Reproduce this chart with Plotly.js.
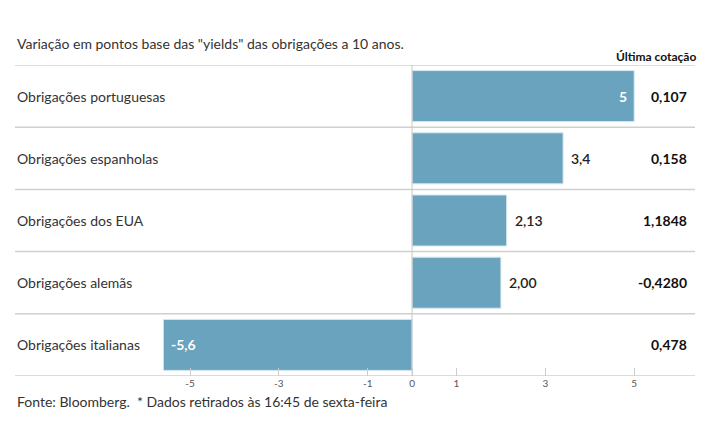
<!DOCTYPE html>
<html><head><meta charset="utf-8">
<script src="https://cdn.plot.ly/plotly-3.0.1.min.js"></script>
<style>body{margin:0;background:#fff}#c{width:715px;height:445px}</style>
</head><body><div id="c"></div>
<script>
const categories = ["Obrigações portuguesas","Obrigações espanholas","Obrigações dos EUA","Obrigações alemãs","Obrigações italianas"];
const changes = [5, 3.4, 2.13, 2.00, -5.6];
const changeLabels = ["5","3,4","2,13","2,00","-5,6"];
const lastQuotes = ["0,107","0,158","1,1848","-0,4280","0,478"];
const tickValues = [-5,-3,-1,0,1,3,5];
const tickLabels = ["-5","-3","-1","0","1","3","5"];

const FONT = "Lato, sans-serif";
const idx = categories.map((_, i) => i);
const n = categories.length;

const trace = {
  type: "bar", orientation: "h",
  x: changes, y: idx,
  width: 0.82,
  marker: {color: "#6aa3bd", line: {color: "#d6e7ef", width: 1}},
  hoverinfo: "skip"
};

const shapes = [];
for (let k = 0; k <= n; k++) {
  shapes.push({type: "line", xref: "paper", yref: "y", x0: 0, x1: 1, y0: k - 0.5, y1: k - 0.5,
    line: {color: "#d0d0d0", width: 1.5}, layer: "below"});
}
shapes.push({type: "line", xref: "x", yref: "y", x0: 0, x1: 0, y0: -0.5, y1: n - 0.5,
  line: {color: "#c8c8c8", width: 1}, layer: "above"});

const annotations = [];
categories.forEach((c, i) => {
  annotations.push({xref: "paper", yref: "y", x: 0, xshift: 0, y: i, text: c, showarrow: false,
    xanchor: "left", yanchor: "middle", font: {family: FONT, size: 14, color: "#333333"}});
  annotations.push({xref: "paper", yref: "y", x: 1, xshift: -6, y: i, text: lastQuotes[i], showarrow: false,
    xanchor: "right", yanchor: "middle", font: {family: FONT, size: 14, color: "#111111", weight: 700}});
  const v = changes[i];
  const inside = (i === 0 || v < 0);
  let xanchor, xshift, color, weight;
  if (inside) {
    xanchor = v > 0 ? "right" : "left";
    xshift = v > 0 ? -5 : 6;
    color = "#ffffff"; weight = 700;
  } else {
    xanchor = v > 0 ? "left" : "right";
    xshift = v > 0 ? 6 : -6;
    color = "#222222"; weight = 600;
  }
  annotations.push({xref: "x", yref: "y", x: v, y: i, text: changeLabels[i], showarrow: false,
    xanchor: xanchor, xshift: xshift, yanchor: "middle",
    font: {family: FONT, size: 14, color: color, weight: weight}});
});
annotations.push({xref: "paper", yref: "paper", x: 1, xshift: 3, y: 1, yshift: -1, text: "Última cotação", showarrow: false,
  xanchor: "right", yanchor: "bottom", font: {family: FONT, size: 12, color: "#111111", weight: 700}});
annotations.push({xref: "paper", yref: "paper", x: 0, xshift: 0, y: 1, yshift: 11, text: 'Variação em pontos base das "yields" das obrigações a 10 anos.', showarrow: false,
  xanchor: "left", yanchor: "bottom", font: {family: FONT, size: 14, color: "#333333"}});
annotations.push({xref: "paper", yref: "paper", x: 0, xshift: 0, y: 0, yshift: -15, text: "Fonte: Bloomberg.  * Dados retirados às 16:45 de sexta-feira", showarrow: false,
  xanchor: "left", yanchor: "top", font: {family: FONT, size: 14, color: "#333333"}});

const layout = {
  width: 715, height: 445,
  margin: {l: 15, r: 20, t: 65, b: 69},
  paper_bgcolor: "#ffffff", plot_bgcolor: "#ffffff",
  showlegend: false,
  xaxis: {range: [-8.94, 6.37], tickvals: tickValues, ticktext: tickLabels, ticks: "inside", ticklen: 8,
    tickcolor: "#cccccc", tickfont: {family: FONT, size: 10, color: "#555555"}, showgrid: false,
    zeroline: false, showline: false, fixedrange: true},
  yaxis: {range: [n - 0.5, -0.5], showticklabels: false, showgrid: false, zeroline: false, ticks: ""},
  shapes: shapes,
  annotations: annotations
};

Plotly.newPlot("c", [trace], layout, {displayModeBar: false, staticPlot: true});
</script>
</body></html>
